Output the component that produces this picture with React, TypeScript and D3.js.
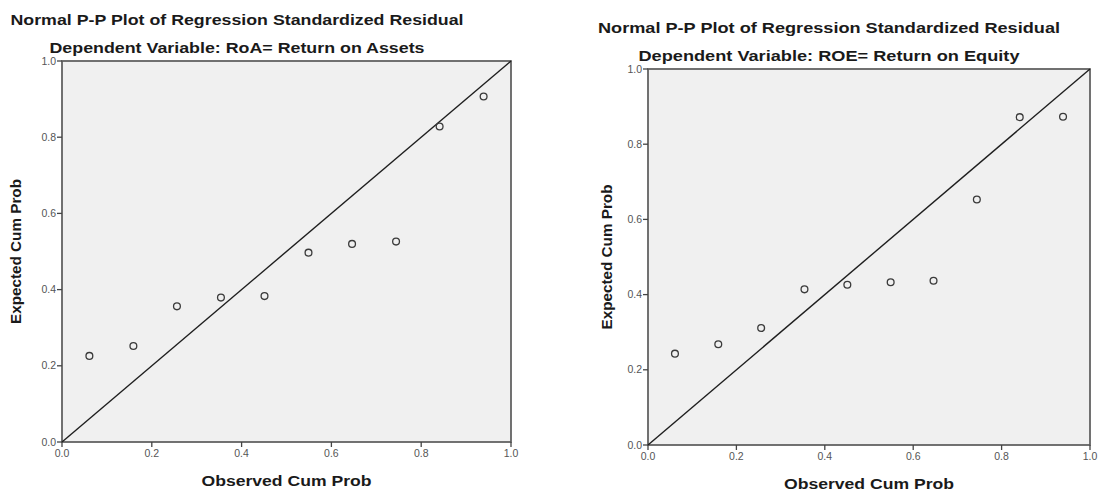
import React from 'react'
import * as d3 from 'd3'

// observed cumulative probabilities (same for both models, n = 10)
const observedCumProb = [0.061, 0.159, 0.256, 0.354, 0.451, 0.549, 0.646, 0.744, 0.841, 0.939]
// expected cumulative probabilities
const roaExpected = [0.226, 0.252, 0.356, 0.379, 0.383, 0.497, 0.520, 0.526, 0.828, 0.907]
const roeExpected = [0.243, 0.268, 0.311, 0.414, 0.426, 0.433, 0.437, 0.653, 0.872, 0.873]
const tickValues = [0, 0.2, 0.4, 0.6, 0.8, 1.0]

const titleText = 'Normal P-P Plot of Regression Standardized Residual'
const xTitle = 'Observed Cum Prob'
const yTitle = 'Expected Cum Prob'

const FONT = 'Arial, "Liberation Sans", Helvetica, sans-serif'

type PanelProps = {
  x0: number
  x1: number
  y0: number
  y1: number
  expected: number[]
  subtitle: string
  titleX: number
  titleY: number
  titleW: number
  subY: number
  subW: number
  yTitleX: number
}

function PPPanel(p: PanelProps) {
  const x = d3.scaleLinear().domain([0, 1]).range([p.x0, p.x1])
  const y = d3.scaleLinear().domain([0, 1]).range([p.y1, p.y0])
  const line = d3.line<number>().x(d => x(d)).y(d => y(d))
  const points = observedCumProb.map((o, i) => ({ o, e: p.expected[i] }))
  const cx = (p.x0 + p.x1) / 2
  const cy = (p.y0 + p.y1) / 2

  return (
    <g>
      <text x={p.titleX} y={p.titleY} textAnchor="middle" fontFamily={FONT} fontWeight="bold"
        fontSize={15.5} fill="#1a1a1a" textLength={p.titleW} lengthAdjust="spacingAndGlyphs">
        {titleText}
      </text>
      <text x={p.titleX} y={p.subY} textAnchor="middle" fontFamily={FONT} fontWeight="bold"
        fontSize={15} fill="#1a1a1a" textLength={p.subW} lengthAdjust="spacingAndGlyphs">
        {p.subtitle}
      </text>

      <rect x={p.x0} y={p.y0} width={p.x1 - p.x0} height={p.y1 - p.y0}
        fill="#f0f0f0" stroke="#5a5a5a" strokeWidth={1.7} />

      {/* reference diagonal */}
      <path d={line([0, 1]) || ''} stroke="#1e1e1e" strokeWidth={1.4} fill="none" />

      {points.map((d, i) => (
        <circle key={i} cx={x(d.o)} cy={y(d.e)} r={3.4}
          fill="none" stroke="#3a3a3a" strokeWidth={1.3} />
      ))}

      {/* x axis */}
      {tickValues.map(t => (
        <g key={'x' + t}>
          <line x1={x(t)} x2={x(t)} y1={p.y1} y2={p.y1 + 5} stroke="#444" strokeWidth={1.3} />
          <text x={x(t)} y={p.y1 + 15} textAnchor="middle" fontFamily={FONT}
            fontSize={10.5} fill="#555">{d3.format('.1f')(t)}</text>
        </g>
      ))}
      {/* y axis */}
      {tickValues.map(t => (
        <g key={'y' + t}>
          <line x1={p.x0 - 5} x2={p.x0} y1={y(t)} y2={y(t)} stroke="#444" strokeWidth={1.3} />
          <text x={p.x0 - 6} y={y(t) + 3.5} textAnchor="end" fontFamily={FONT}
            fontSize={10.5} fill="#555">{d3.format('.1f')(t)}</text>
        </g>
      ))}

      <text x={cx} y={p.y1 + 44} textAnchor="middle" fontFamily={FONT} fontWeight="bold"
        fontSize={14} fill="#1a1a1a" textLength={170} lengthAdjust="spacingAndGlyphs">
        {xTitle}
      </text>
      <text transform={`translate(${p.yTitleX},${cy}) rotate(-90)`} textAnchor="middle"
        fontFamily={FONT} fontWeight="bold" fontSize={14} fill="#1a1a1a"
        textLength={145} lengthAdjust="spacingAndGlyphs">
        {yTitle}
      </text>
    </g>
  )
}

export default function App() {
  return (
    <svg width={1100} height={491} style={{ position: 'fixed', left: 0, top: 0, background: '#fff' }}>
      <rect width={1100} height={491} fill="#fff" />
      <PPPanel x0={62} x1={511} y0={61} y1={442} expected={roaExpected}
        subtitle="Dependent Variable: RoA= Return on Assets"
        titleX={237} titleY={25} titleW={453} subY={53} subW={375} yTitleX={21} />
      <PPPanel x0={648} x1={1090} y0={69} y1={445} expected={roeExpected}
        subtitle="Dependent Variable: ROE= Return on Equity"
        titleX={829} titleY={33} titleW={462} subY={61} subW={381} yTitleX={612} />
    </svg>
  )
}
